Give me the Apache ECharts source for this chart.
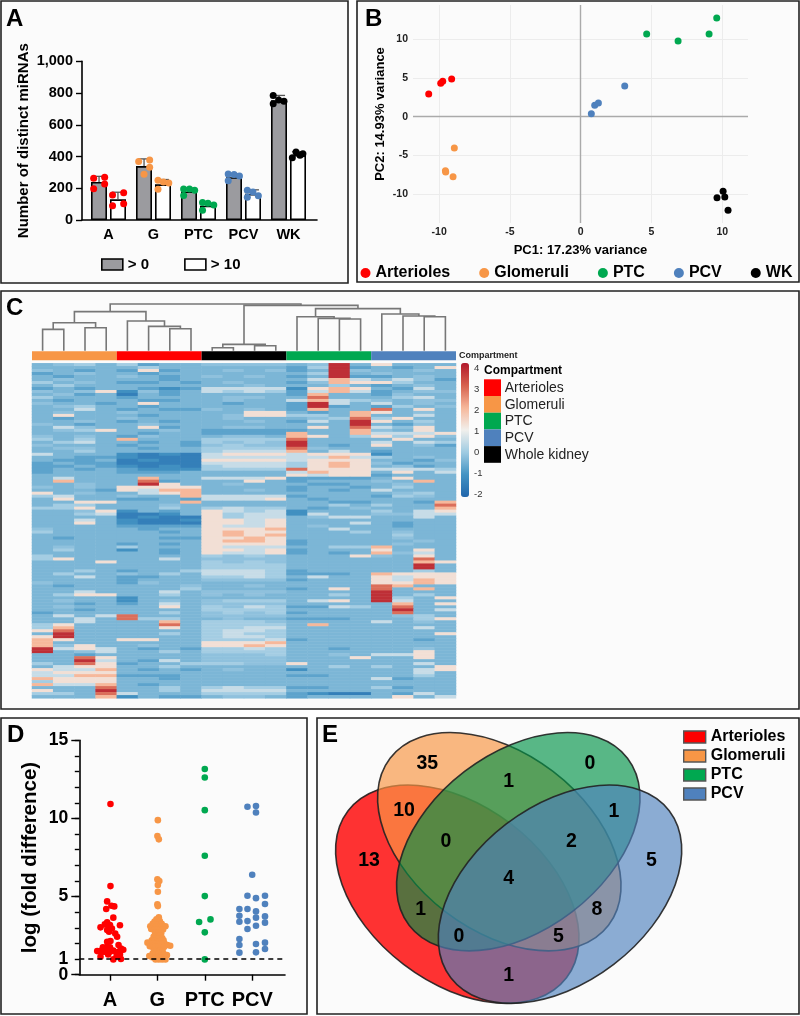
<!DOCTYPE html>
<html><head><meta charset="utf-8">
<script src="https://cdn.jsdelivr.net/npm/echarts@6/dist/echarts.min.js"></script>
<style>html,body{margin:0;padding:0;background:#fff}#c{width:800px;height:1016px}</style></head>
<body><div id="c"></div>
<script>
const FONT='"Liberation Sans",Arial,sans-serif';
const RED='#ff0000',ORANGE='#f79646',GREEN='#00a850',BLUE='#4f81bd',BLACK='#000000';

// Panel A
const aCategories=['A','G','PTC','PCV','WK'];
const aMeanAll=[240,340,180,270,755];
const aMeanTen=[130,225,90,165,410];
const aUpperAll=[275,385,200,290,785];
const aUpperTen=[175,255,105,190,430];
const aColors=[RED,ORANGE,GREEN,BLUE,BLACK];
const aPointsAll=[
 [[-0.33,263],[-0.085,269],[-0.085,227],[-0.33,197]],
 [[-0.33,368],[-0.085,378],[-0.085,332],[-0.21,288]],
 [[-0.33,195],[-0.2,195],[-0.085,187],[-0.33,155]],
 [[-0.34,290],[-0.21,286],[-0.09,277],[-0.34,248]],
 [[-0.34,784],[-0.34,733],[-0.22,756],[-0.1,748]]];
const aPointsTen=[
 [[0.09,158],[0.337,172],[0.09,90],[0.337,103]],
 [[0.1,250],[0.22,240],[0.34,233],[0.1,193]],
 [[0.09,111],[0.21,105],[0.34,95],[0.09,61]],
 [[0.085,187],[0.21,176],[0.33,153],[0.085,143]],
 [[0.085,393],[0.167,429],[0.255,408],[0.32,418]]];

// Panel B
const pcaArterioles=[[-10.74,2.92],[-9.89,4.29],[-9.75,4.55],[-9.12,4.85]];
const pcaGlomeruli=[[-8.93,-4.03],[-9.56,-6.95],[-9.54,-7.12],[-9.02,-7.72]];
const pcaPTC=[[4.66,10.64],[6.88,9.74],[9.07,10.64],[9.61,12.7]];
const pcaPCV=[[0.75,0.39],[0.99,1.46],[1.25,1.76],[3.11,3.95]];
const pcaWK=[[10.06,-9.61],[10.18,-10.34],[9.63,-10.43],[10.41,-12.06]];
const pcaTicks=[-10,-5,0,5,10];

// Panel C: one string per miRNA row, one character per sample (level index)
const heatLevels={0:-1.55,1:-1.15,2:-0.78,3:-0.42,4:-0.2,5:0.05,6:0.5,7:1.35,8:2.1,9:3,X:3.9};
const heatRows=[
"3453 5233 4444 34X3 7333","3333 3533 3333 25X2 3237","4323 2723 3434 23X4 3343","2343 3233 3333 35X3 4333",
"3233 4323 4343 23X2 2343","3433 3323 3333 3686 4642","5343 2232 3433 2487 7533","3533 3333 3343 3353 2343",
"2323 3212 6666 1787 3263","4347 1423 6565 2686 2344","3423 0323 3333 2833 2433","5333 2333 3443 3933 3563",
"3233 3223 3433 6865 4344","4332 3733 3233 2X63 6343","3453 3233 3333 2X23 2534","3363 2322 4343 2833 9373",
"3433 4333 3377 3238 7343","3733 3233 3477 5538 3363","3233 4333 3433 3459 5733","3343 2323 3343 263X 7353",
"4323 3433 3333 333X 3243","3643 3723 3443 3739 6473","3457 3343 2222 2338 4373","3333 3233 2222 8338 6667",
"4343 2433 3443 8735 7574","5353 8333 5555 9333 3733","3563 3232 5454 X333 6365","4333 2332 4544 X323 7342",
"3443 3233 5555 9433 3333","3353 3333 5666 8363 2333","6333 1010 6777 6777 1333","3322 1000 6666 6686 5343",
"3223 0100 7777 6777 3324","2322 0000 6666 5787 4233","2232 1010 5666 5787 3423","2323 2111 5555 9777 6665",
"2333 2223 3333 6877 3736","3333 3333 3333 7677 2333","3633 3833 6667 2222 3733","3833 3923 3373 2333 4383",
"3343 3X73 3433 3223 3433","4343 7777 3333 2332 3533","3332 7688 3343 2323 6333","7343 3678 3333 3333 3453",
"5633 4338 6666 2333 2543","3733 2232 6667 3233 3333","3377 3338 3333 3322 3328","3553 3343 3333 3353 5339",
"5573 3353 5655 3234 3338","3347 1323 7656 1333 5367","3356 0013 7566 1633 4466","3333 0100 7566 3466 3363",
"3363 1001 7767 3333 3333","3373 1000 7767 3336 3233","3333 2222 7667 3433 3233","4333 3233 7778 3363 3333",
"5333 3323 7877 3335 3433","3333 3333 7878 3333 3533","3233 3322 7787 3333 3433","3333 3333 7887 2333 3343",
"3333 2323 7777 2333 3433","3433 5333 7666 3355 8333","3533 1323 7767 2333 7373","3333 3323 7667 2323 8463",
"5333 3333 5454 3337 4373","5733 3363 4444 3333 3393","3337 3333 5454 3333 3387","3333 3333 5555 3333 33X3",
"3333 3333 5555 3333 33X3","3353 2335 6665 2333 3353","3533 4353 6665 2223 8777","3363 2233 5565 3633 7677",
"3333 2333 4444 2333 7687","4333 2433 3333 3333 7787","3233 3334 3343 3333 9833","3333 3335 3333 2373 9383",
"3363 3363 4444 3333 X333","3577 3353 4343 3353 X353","3333 1333 3333 3333 X537","3433 1343 4555 3673 X633",
"3323 2363 4444 3333 3837","3433 3373 5465 2265 3933","3323 3333 5555 3333 3X36","2333 3353 4545 2333 3933",
"3636 9333 4444 3333 3453","3363 9553 3433 2223 3357","3363 3383 5554 3333 6343","5733 3393 5555 3833 3333",
"5833 3373 5566 3333 3363","7933 3333 5665 3333 3333","3X33 3353 5655 3333 3337","7X33 3333 5665 3333 3333",
"8733 7733 5556 2333 3323","8333 3333 7778 3333 3333","8473 3433 7787 3333 3333","X676 3232 5565 3323 3343",
"X346 3353 5555 3333 3373","3323 3333 4445 3343 6673","3397 3333 4444 3337 3373","33X6 3263 4444 3333 3333",
"5397 2335 5544 7333 3363","3677 3353 3333 3353 5337","7668 3232 3433 1333 3367","6777 3333 3333 3333 3363",
"6688 2223 3333 2233 3353","8777 3323 3333 3333 6233","5777 3333 3333 3333 3333","8668 3233 3333 3333 3333",
"3339 3353 5655 2233 5233","733X 3353 6666 3333 3333","5539 6333 5555 2100 3263","3338 1322 3443 2333 3736"];
const heatScaleColors=['#2166ac','#4393c3','#9fcbe2','#f1efec','#f6b79a','#d6604d','#b2182b'];
const annotationGroups=['Glomeruli','Arterioles','Whole kidney','PTC','PCV'];
const annotationColors=[ORANGE,RED,BLACK,GREEN,BLUE];
// merges: [child, child, height]; child >= 20 means merge number (child-20)
const dendroMerges=[[0,1,64],[2,3,69],[20,21,84],[6,7,66],[5,23,73],[4,24,89],[22,25,117],
 [8,9,9],[10,11,15],[27,28,19],[14,15,95],[13,30,97],[12,31,102],[18,19,102],[17,33,104],[16,34,110],
 [32,35,126],[29,36,136],[26,37,140]];
const compartmentNames=['Arterioles','Glomeruli','PTC','PCV','Whole kidney'];
const compartmentColors=[RED,ORANGE,GREEN,BLUE,BLACK];

// Panel D
const dCategories=['A','G','PTC','PCV'];
const dMajorTicks=[0,5,10,15];
const dThresholdTick=[1];
const dMinorTickStep=1;
const foldA=[[0.01,10.92],[0.01,5.67],[-0.06,4.69],[0.03,4.41],[0.09,4.37],[-0.08,4.2],[0.07,3.65],[-0.06,3.35],[-0.11,3.22],[0,3.18],[0.21,3.16],[-0.2,3.03],[-0.06,2.86],[0.04,2.96],[-0.02,2.75],[0.11,2.64],[0.15,2.43],[-0.06,2.11],[0.01,2.15],[-0.06,1.79],[-0.15,1.75],[0,1.75],[0.18,1.9],[0.23,1.68],[-0.27,1.51],[-0.21,1.51],[-0.14,1.47],[-0.07,1.43],[0,1.47],[0.07,1.54],[0.14,1.43],[0.21,1.51],[0.28,1.6],[-0.2,1.15],[-0.04,1.3],[0.14,1.22],[0.21,1.3],[0.07,0.98],[0.23,1.0]];
const foldG=[[1.01,9.89],[1,8.87],[1.03,8.66],[1,6.1],[1.04,5.99],[1.01,5.74],[1.01,5.31],[1,4.5],[1.01,4.39],
 [1.03,3.67],[0.98,3.54],[1.05,3.43],[0.94,3.4],[1.0,3.35],[0.9,3.25],[0.96,3.22],[1.02,3.2],[1.09,3.25],[0.85,3.1],[0.91,3.05],[0.97,3.05],[1.03,3.05],[1.1,3.1],[1.17,3.1],[0.87,2.92],[0.94,2.88],[1,2.9],[1.06,2.88],[1.12,2.9],
 [0.95,2.7],[1.02,2.72],[1.08,2.65],[0.98,2.5],[1.05,2.5],[0.92,2.42],[1.1,2.35],[0.96,2.3],[1.02,2.3],[0.88,2.2],[0.94,2.15],[1,2.12],[1.06,2.15],[1.13,2.2],[0.79,2.05],[0.85,2.02],[0.91,2],[0.97,1.98],[1.03,1.98],[1.09,2],[1.15,2],[1.21,1.9],[1.27,1.85],
 [0.84,1.82],[0.9,1.78],[0.96,1.78],[1.02,1.8],[1.08,1.76],[1.14,1.78],[0.93,1.55],[0.99,1.55],[1.05,1.55],[1.11,1.5],[0.9,1.35],[0.96,1.3],[1.02,1.32],[1.08,1.3],[1.14,1.3],[1.2,1.25],[0.83,1.2],[0.89,1.12],[1.16,1.15],[0.95,1.08],[1.01,1.1],[1.07,1.1],[0.96,0.98],[1.03,0.98],[1.1,0.98],[1.17,0.98]];
const foldPTC=[[2,13.16],[2,12.62],[2,10.53],[2,7.61],[2,5.03],[2.12,3.54],[1.88,3.37],[2,2.71],[2,0.98]];
const foldPCV=[[2.9,10.75],[3.08,10.79],[3.08,10.38],[3,6.4],[2.9,5.05],[3.08,4.9],[3.27,5.05],[3.27,4.52],[2.73,4.2],[2.9,4.2],[3.08,4.05],[2.73,3.77],[3.27,3.73],[3.08,3.65],[2.73,3.39],[2.9,3.43],[3.27,3.33],[3.08,3.13],[2.9,2.92],[2.73,2.28],[2.73,1.9],[3.08,1.96],[3.27,2.05],[3.27,1.64],[2.73,1.41],[3.08,1.43]];
const foldThreshold=1;

// Panel E
const vennCounts=[13,35,0,10,1,1,0,2,5,4,1,8,0,5,1];

// ---- layout (not data) ----
const vennSpots=[[162,438],[337,147],[825,147],[267,288],[581,200],[897,290],[393,381],[769,381],[1009,438],[581,492],[317,583],[846,583],[432,666],[730,666],[581,783]];
const frames=[[1,1,347,282],[357,1,442,281],[1,291,798,418],[1,718,306,296],[317,718,482,296]];
const letters=[['A',6,7],['B',365,7],['C',6,296],['D',7,723],['E',322,723]];
const ellipses=[[457.3,894.2,-0.653,RED,.8],[499.3,841.7,-0.653,ORANGE,.68],[518.3,841.7,0.653,'#009246',.65],[560,894.2,0.653,BLUE,.65]];

const graphic=[];
frames.forEach(f=>graphic.push({type:'rect',z:-5,shape:{x:f[0],y:f[1],width:f[2],height:f[3]},style:{fill:'#fbfbfb',stroke:'#222',lineWidth:1.6}}));
letters.forEach(l=>graphic.push({type:'text',z:50,x:l[1],y:l[2],style:{text:l[0],font:'bold 24px '+FONT,fill:'#000'}}));
ellipses.forEach(e=>graphic.push({type:'ellipse',z:1,x:e[0],y:e[1],rotation:e[2],shape:{cx:0,cy:0,rx:137.5,ry:88.4},style:{fill:e[3],opacity:1,fillOpacity:e[4],stroke:'#222',lineWidth:1.6,strokeOpacity:.9}}));
vennCounts.forEach((v,i)=>graphic.push({type:'text',z:2,x:315+vennSpots[i][0]/3,y:715+vennSpots[i][1]/3,style:{text:String(v),font:'bold 19.5px '+FONT,fill:'#000',align:'center',verticalAlign:'middle'}}));
graphic.push({type:'text',z:5,x:459,y:356,style:{text:'Compartment',font:'bold 9px '+FONT,fill:'#222',verticalAlign:'middle'}});
graphic.push({type:'text',z:5,x:484,y:371,style:{text:'Compartment',font:'bold 12px '+FONT,fill:'#000',verticalAlign:'middle'}});
compartmentNames.forEach((n,i)=>{
 graphic.push({type:'rect',z:5,shape:{x:484,y:379.3+i*16.7,width:17,height:16.7},style:{fill:compartmentColors[i]}});
 graphic.push({type:'text',z:5,x:504.7,y:388+i*16.7,style:{text:n,font:'14px '+FONT,fill:'#222',verticalAlign:'middle'}});
});

const grids=[
 {left:82,top:61.3,width:235,height:158.7},
 {left:86,top:61.3,width:225,height:158.7},
 {left:413,top:5,width:335,height:218},
 {left:32,top:304,width:424,height:46.7},
 {left:32,top:351.3,width:424,height:9},
 {left:32,top:363.3,width:424,height:335},
 {left:461,top:368,width:8,height:126},
 {left:79.3,top:740.3,width:205.7,height:234.4}];
const boldAxis=s=>({fontFamily:FONT,fontWeight:'bold',fontSize:s,color:'#000'});
const hiddenVal=(g,min,max)=>({type:'value',gridIndex:g,min,max,show:false});
const xAxes=[
 {type:'category',gridIndex:0,data:aCategories,axisLabel:{show:false},axisTick:{show:false},axisLine:{lineStyle:{color:'#000',width:1.6}}}, //0
 {type:'category',gridIndex:1,data:aCategories,axisLine:{show:false},axisTick:{show:false},axisLabel:{...boldAxis(14.5),margin:7}}, //1
 hiddenVal(1,-0.5,4.5), //2
 {type:'value',gridIndex:2,min:-11.85,max:11.82,axisLine:{show:false},axisTick:{show:false,customValues:pcaTicks},
  axisLabel:{customValues:pcaTicks,...boldAxis(10.5),color:'#222',margin:4},splitLine:{show:true,lineStyle:{color:'#ececec',width:1}},
  name:'PC1: 17.23% variance',nameLocation:'middle',nameGap:21,nameTextStyle:boldAxis(13)}, //3
 hiddenVal(3,-0.5,19.5), //4
 {type:'category',gridIndex:4,data:annotationGroups,show:false}, //5
 {type:'category',gridIndex:5,data:heatRows[0].replace(/ /g,'').split('').map((_,i)=>'S'+(i+1)),show:false}, //6
 hiddenVal(6,0,1), //7
 {type:'value',gridIndex:7,min:(79.3-110)/47.4,max:(285-110)/47.4,splitLine:{show:false},
  axisLine:{onZero:false,lineStyle:{color:'#000',width:1.6}},
  axisTick:{customValues:[0,1,2,3],length:6,lineStyle:{color:'#000',width:1.4}},
  axisLabel:{customValues:[0,1,2,3],formatter:v=>dCategories[Math.round(v)],...boldAxis(20),margin:16}} //8
];
const yAxes=[
 {type:'value',gridIndex:0,min:0,max:1000,interval:200,splitLine:{show:false},axisLine:{show:true,lineStyle:{color:'#000',width:1.6}},axisTick:{show:true,length:6,lineStyle:{color:'#000',width:1.4}},
  axisLabel:{...boldAxis(14.5),margin:9,formatter:v=>v.toLocaleString('en-US')},
  name:'Number of distinct miRNAs',nameLocation:'middle',nameGap:50.5,nameTextStyle:boldAxis(15)}, //0
 hiddenVal(1,0,1000), //1
 {type:'value',gridIndex:2,min:-13.69,max:14.38,axisLine:{show:false},axisTick:{show:false,customValues:pcaTicks},
  axisLabel:{customValues:pcaTicks,...boldAxis(10.5),color:'#222',margin:5},splitLine:{show:true,lineStyle:{color:'#ececec',width:1}},
  name:'PC2: 14.93% variance',nameLocation:'middle',nameGap:26,nameTextStyle:boldAxis(13)}, //2
 hiddenVal(3,0,140), //3
 hiddenVal(4,0,1), //4
 {type:'category',gridIndex:5,inverse:true,data:heatRows.map((_,i)=>'miR'+(i+1)),show:false}, //5
 {type:'value',gridIndex:6,min:-2,max:4,interval:1,position:'right',splitLine:{show:false},axisLine:{show:false},axisTick:{show:false},
  axisLabel:{fontFamily:FONT,fontSize:9.5,color:'#333',margin:5}}, //6
 {type:'value',gridIndex:7,min:0,max:15,interval:dMinorTickStep,splitLine:{show:false},axisLine:{show:true,onZero:false,lineStyle:{color:'#000',width:1.6}},axisTick:{show:true,length:4.5,lineStyle:{color:'#000',width:1.4}},
  axisLabel:{customValues:dThresholdTick,...boldAxis(17.5),margin:11,hideOverlap:false}}, //7
 {type:'value',gridIndex:7,min:0,max:15,position:'left',splitLine:{show:false},axisLine:{show:false,onZero:false},
  axisTick:{show:true,length:8,customValues:dMajorTicks,lineStyle:{color:'#000',width:1.4}},
  axisLabel:{customValues:dMajorTicks,...boldAxis(17.5),margin:11,hideOverlap:false,showMinLabel:true,showMaxLabel:true},
  name:'log (fold difference)',nameLocation:'middle',nameGap:38,nameTextStyle:boldAxis(20.5)} //8
];

const series=[];
const barStyle=c=>({color:c,borderColor:'#000',borderWidth:1.6});
series.push({name:'> 0',type:'bar',xAxisIndex:1,yAxisIndex:1,data:aMeanAll,barWidth:16,barGap:'18.75%',itemStyle:barStyle('#9b9b9f')});
series.push({name:'> 10',type:'bar',xAxisIndex:1,yAxisIndex:1,data:aMeanTen,barWidth:16,barGap:'18.75%',itemStyle:barStyle('#ffffff')});
const errData=[];
aUpperAll.forEach((u,i)=>errData.push([i-0.21,aMeanAll[i],u]));
aUpperTen.forEach((u,i)=>errData.push([i+0.21,aMeanTen[i],u]));
series.push({type:'custom',name:'err',xAxisIndex:2,yAxisIndex:1,z:3,silent:true,encode:{x:0,y:[1,2]},data:errData,
 renderItem:(p,api)=>{const b=api.coord([api.value(0),api.value(1)]),t=api.coord([api.value(0),api.value(2)]);
  const st={stroke:'#555',lineWidth:1.3,fill:'none'};
  return {type:'group',children:[
   {type:'line',shape:{x1:b[0],y1:b[1],x2:t[0],y2:t[1]},style:st},
   {type:'line',shape:{x1:t[0]-6,y1:t[1],x2:t[0]+6,y2:t[1]},style:st}]};}});
aCategories.forEach((c,i)=>{
 series.push({type:'scatter',name:'A-'+c+'-all',xAxisIndex:2,yAxisIndex:1,z:4,symbolSize:7,data:aPointsAll[i].map(p=>[i+p[0],p[1]]),itemStyle:{color:aColors[i],opacity:1}});
 series.push({type:'scatter',name:'A-'+c+'-ten',xAxisIndex:2,yAxisIndex:1,z:4,symbolSize:7,data:aPointsTen[i].map(p=>[i+p[0],p[1]]),itemStyle:{color:aColors[i],opacity:1}});
});
// B
[['Arterioles',pcaArterioles,RED],['Glomeruli',pcaGlomeruli,ORANGE],['PTC',pcaPTC,GREEN],['PCV',pcaPCV,BLUE],['WK',pcaWK,BLACK]].forEach((s,i)=>{
 const o={type:'scatter',name:s[0],xAxisIndex:3,yAxisIndex:2,z:5,symbolSize:7,data:s[1],itemStyle:{color:s[2],opacity:1}};
 if(i===0)o.markLine={silent:true,symbol:'none',label:{show:false},lineStyle:{color:'#aaa',width:1.4,type:'solid'},data:[{xAxis:0},{yAxis:0}]};
 series.push(o);
});
// C dendrogram
const nodeX=i=>i<20?i:mergeX[i-20];const nodeH=i=>i<20?0:dendroMerges[i-20][2];
const mergeX=[];dendroMerges.forEach(m=>mergeX.push((nodeX(m[0])+nodeX(m[1]))/2));
series.push({type:'custom',name:'dendrogram',xAxisIndex:4,yAxisIndex:3,silent:true,encode:{x:[0,1],y:[2,3,4]},
 data:dendroMerges.map(m=>[nodeX(m[0]),nodeX(m[1]),m[2],nodeH(m[0]),nodeH(m[1])]),
 renderItem:(p,api)=>{const a=api.coord([api.value(0),api.value(3)]),b=api.coord([api.value(0),api.value(2)]),c=api.coord([api.value(1),api.value(2)]),d=api.coord([api.value(1),api.value(4)]);
  return {type:'polyline',shape:{points:[a,b,c,d]},style:{stroke:'#777',lineWidth:1.6,fill:'none'}};}});
// C annotation
series.push({type:'bar',name:'annotation',xAxisIndex:5,yAxisIndex:4,barWidth:'100%',silent:true,
 data:annotationColors.map(c=>({value:1,itemStyle:{color:c}}))});
// C heat
const heatData=[];
heatRows.forEach((r,y)=>r.replace(/ /g,'').split('').forEach((ch,x)=>heatData.push([x,y,heatLevels[ch]])));
const heatIndex=series.length;
series.push({type:'heatmap',name:'heat',xAxisIndex:6,yAxisIndex:5,data:heatData,silent:true,progressive:0,itemStyle:{borderWidth:0}});
// D
[['fold A',foldA,RED],['fold G',foldG,ORANGE],['fold PTC',foldPTC,GREEN],['fold PCV',foldPCV,BLUE]].forEach((s,i)=>{
 const o={type:'scatter',name:s[0],xAxisIndex:8,yAxisIndex:7,z:4,symbolSize:6.6,data:s[1],itemStyle:{color:s[2],opacity:1}};
 if(i===0)o.markLine={silent:true,symbol:'none',label:{show:false},z:6,lineStyle:{color:'#000',width:1.5,type:[5,4]},data:[{yAxis:foldThreshold}]};
 series.push(o);
});

const chart=echarts.init(document.getElementById('c'),null,{renderer:'canvas'});
chart.setOption({
 animation:false,backgroundColor:'#ffffff',textStyle:{fontFamily:FONT},
 graphic:{elements:graphic},
 grid:grids,xAxis:xAxes,yAxis:yAxes,
 visualMap:{type:'continuous',seriesIndex:heatIndex,min:-2.14,max:4.24,left:461,top:363,itemWidth:8,itemHeight:134,padding:0,calculable:false,text:null,inRange:{color:heatScaleColors}},
 legend:[
  {data:['> 0','> 10'],left:101,top:257,itemWidth:21,itemHeight:11,itemGap:35,icon:'rect',selectedMode:false,textStyle:{fontFamily:FONT,fontWeight:'bold',fontSize:15,color:'#000'},itemStyle:{borderColor:'#000',borderWidth:1.6},padding:0},
  {data:['Arterioles','Glomeruli','PTC','PCV','WK'],left:360.5,top:265,itemWidth:10,itemHeight:10,itemGap:29,icon:'circle',selectedMode:false,textStyle:{fontFamily:FONT,fontWeight:'bold',fontSize:16,color:'#000'},padding:0},
  {data:['Arterioles','Glomeruli','PTC','PCV'],orient:'vertical',left:683,top:729,itemWidth:22,itemHeight:12,itemGap:3,icon:'rect',selectedMode:false,textStyle:{fontFamily:FONT,fontWeight:'bold',fontSize:16,color:'#000'},itemStyle:{borderColor:'#555',borderWidth:1.4},padding:0}
 ],
 series
});
</script></body></html>
